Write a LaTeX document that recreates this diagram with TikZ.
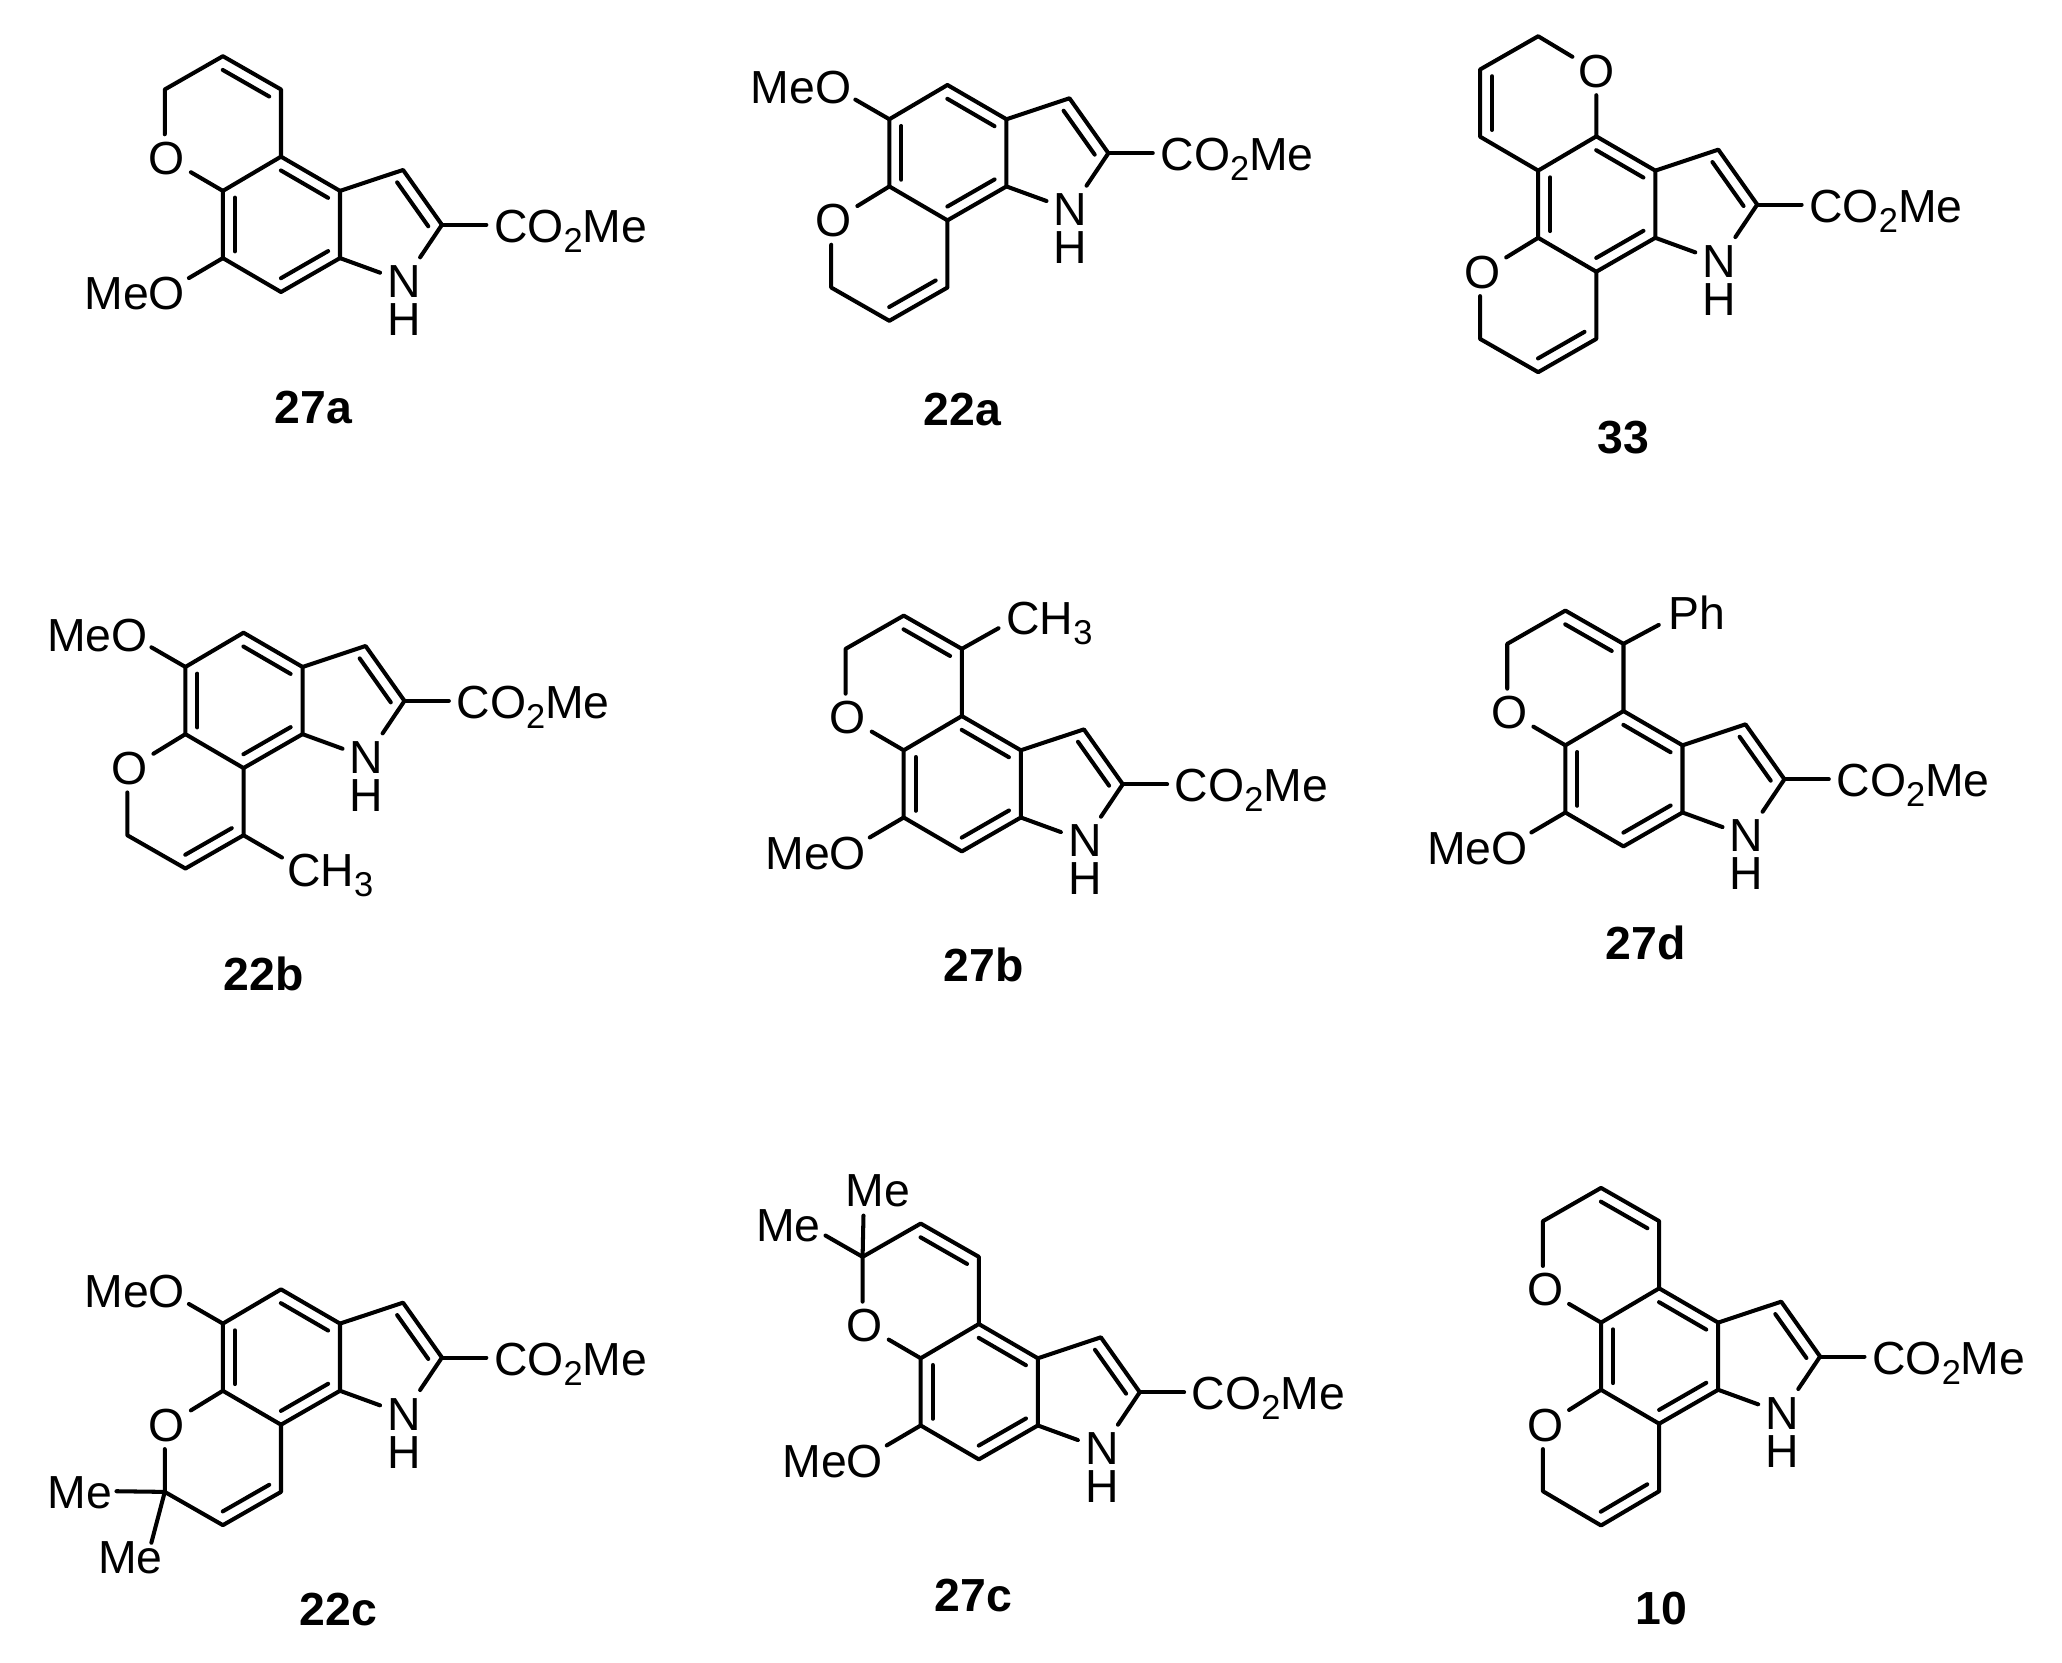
\documentclass[tikz,border=0pt]{standalone}
\usepackage{fontspec}
\setmainfont{Liberation Sans}
\usetikzlibrary{calc}
\newcommand\subs[1]{\raisebox{-2.8pt}{\fontsize{9.8}{10}\selectfont #1}}
\tikzset{
  bond/.style={line width=1.15pt,line cap=round,line join=round,black},
  atom/.style={inner sep=0pt,minimum width=0.464cm,minimum height=0.467cm,font=\fontsize{13.2}{15}\selectfont},
  txt/.style={inner sep=0pt,font=\fontsize{13.2}{15}\selectfont},
  lab/.style={inner sep=0pt,font=\fontsize{13.2}{15}\selectfont\bfseries},
  mol/.style 2 args={shift={(#1*0.01,-#2*0.01)},x=0.004464cm,y=-0.003333cm}
}
% inner line of a double bond, on the left of A->B as seen on the page
\newcommand\dbl[2]{\draw[bond] ($(#1)!.1!(#2)!.12cm!90:(#2)$) -- ($(#2)!.1!(#1)!.12cm!-90:(#1)$);}
\newcommand\indolecore{%
  \coordinate (P) at (0,0);
  \coordinate (a) at (-132,-103);
  \coordinate (f) at (-262,0);
  \coordinate (e) at (-262,202);
  \coordinate (d) at (-132,304);
  \coordinate (c) at (0,202);
  \coordinate (C3) at (141,-63);
  \coordinate (C2) at (228,102);
  \node[atom] (N) at (143,272) {N};
  \node[atom] (H) at (143,387) {H};
  \node[txt,anchor=base west] (E) at (343,155) {CO\subs{2}Me};
  \draw[bond] (a) -- (P) -- (c) -- (d) -- (e) -- (f) -- cycle;
  \draw[bond] (P) -- (C3) -- (C2);
  \draw[bond] (c) -- (N);
  \draw[bond] (C2) -- (N);
  \draw[bond,shorten >=2pt] (C2) -- (E.west |- C2);
  \dbl{P}{a}\dbl{f}{e}\dbl{d}{c}\dbl{C2}{C3}
}
% pyran ring fused on a--f
\newcommand\pyranA{%
  \coordinate (i) at (-132,-305);
  \coordinate (j) at (-262,-405);
  \coordinate (k) at (-392,-305);
  \node[atom] (O) at (-387,-98) {O};
  \draw[bond] (a) -- (i) -- (j) -- (k) -- (k |- O.north);
  \draw[bond] (O) -- (f);
  \dbl{i}{j}
}
% pyran ring fused on d--e
\newcommand\pyranB{%
  \coordinate (i) at (-132,506);
  \coordinate (j) at (-262,606);
  \coordinate (k) at (-392,506);
  \node[atom] (O) at (-387,305) {O};
  \draw[bond] (d) -- (i) -- (j) -- (k) -- (k |- O.south);
  \draw[bond] (O) -- (e);
  \dbl{j}{i}
}
% methoxy on e
\newcommand\meoA{%
  \node[txt,anchor=base east] (M) at (-345,358) {MeO};
  \coordinate (Mo) at (-338,262);
  \draw[bond] (e) -- (Mo);
}
% methoxy on f
\newcommand\meoB{%
  \node[txt,anchor=base east] (M) at (-345,-47) {MeO};
  \coordinate (Mo) at (-338,-59);
  \draw[bond] (f) -- (Mo);
}
\begin{document}
\begin{tikzpicture}
\useasboundingbox (0,0) rectangle (20.62,-16.62);
\fill[white] (0,0) rectangle (20.62,-16.62);

% 27a
\begin{scope}[mol={340.2}{191},name prefix=m1-]
  \indolecore\pyranA\meoA
\end{scope}
\node[lab] (l1) at (3.134,-4.073) {27a};

% 22a
\begin{scope}[mol={1007}{119.3},name prefix=m2-]
  \indolecore\pyranB\meoB
\end{scope}
\node[lab] (l2) at (9.624,-4.10) {22a};

% 33
\begin{scope}[mol={1656.2}{170.7},name prefix=m3-]
  \indolecore\pyranB
  \node[atom] (O2) at (-132,-299) {O};
  \coordinate (t) at (-262,-404);
  \coordinate (u) at (-392,-304);
  \coordinate (v) at (-392,-102);
  \draw[bond] (a) -- (O2) -- (t) -- (u) -- (v) -- (f);
  \dbl{u}{v}
\end{scope}
\node[lab] (l3) at (16.236,-4.373) {33};

% 22b
\begin{scope}[mol={302.7}{667.3},name prefix=m4-]
  \indolecore\pyranB\meoB
  \node[txt,anchor=base west] (Me) at (-36,660) {CH\subs{3}};
  \coordinate (Mb) at (-46,573);
  \draw[bond] (i) -- (Mb);
\end{scope}
\node[lab] (l4) at (2.634,-9.743) {22b};

% 27b
\begin{scope}[mol={1021.4}{750.7},name prefix=m5-]
  \indolecore\pyranA\meoA
  \node[txt,anchor=base west] (Me) at (-34,-347) {CH\subs{3}};
  \coordinate (Mb) at (-50,-367);
  \draw[bond] (i) -- (Mb);
\end{scope}
\node[lab] (l5) at (9.835,-9.65) {27b};

% 27d
\begin{scope}[mol={1683.4}{745.7},name prefix=m6-]
  \indolecore\pyranA\meoA
  \node[txt,anchor=base west] (Ph) at (-33,-349) {Ph};
  \coordinate (Mb) at (-53,-362);
  \draw[bond] (i) -- (Mb);
\end{scope}
\node[lab] (l6) at (16.455,-9.427) {27d};

% 22c
\begin{scope}[mol={340.2}{1324.3},name prefix=m7-]
  \indolecore\pyranB\meoB
  \node[txt,anchor=base east] (Me1) at (-508,557) {Me};
  \coordinate (Mb1) at (-500,504);
  \node[txt,anchor=base east] (Me2) at (-395,752) {Me};
  \coordinate (Mb2) at (-422,659);
  \draw[bond] (k) -- (Mb1);
  \draw[bond] (k) -- (Mb2);
\end{scope}
\node[lab] (l7) at (3.384,-16.09) {22c};

% 27c
\begin{scope}[mol={1038.4}{1359},name prefix=m8-]
  \indolecore\pyranA\meoA
  \node[txt,anchor=base east] (Me1) at (-284,-455) {Me};
  \coordinate (Mb1) at (-390,-429);
  \node[txt,anchor=base east] (Me2) at (-484,-352) {Me};
  \coordinate (Mb2) at (-475,-369);
  \draw[bond] (k) -- (Mb1);
  \draw[bond] (k) -- (Mb2);
\end{scope}
\node[lab] (l8) at (9.732,-15.957) {27c};

% 10
\begin{scope}[mol={1719.1}{1323.3},name prefix=m9-]
  \indolecore\pyranA
  \node[atom] (O2) at (-387,308) {O};
  \coordinate (p) at (-392,507);
  \coordinate (q) at (-262,610);
  \coordinate (r) at (-132,507);
  \draw[bond] (e) -- (O2);
  \draw[bond] (p |- O2.south) -- (p) -- (q) -- (r) -- (d);
  \dbl{q}{r}
\end{scope}
\node[lab] (l9) at (16.61,-16.083) {10};
\end{tikzpicture}
\end{document}
